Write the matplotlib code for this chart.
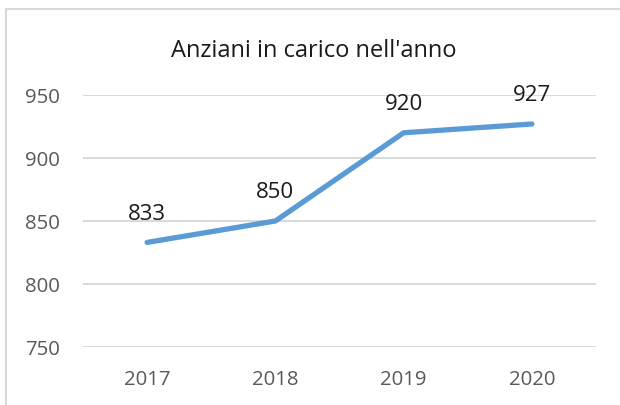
import matplotlib.pyplot as plt
from matplotlib.lines import Line2D

years = ["2017", "2018", "2019", "2020"]
anziani = [833, 850, 920, 927]
yticks = [750, 800, 850, 900, 950]

W, H = 620, 406
fig = plt.figure(figsize=(W / 100, H / 100), dpi=100)
plt.rcParams["font.family"] = ["Open Sans", "DejaVu Sans"]

# axes placed in pixel coords of the reference
left, right, top, bottom = 83, 596, 96, 348
ax = fig.add_axes([left / W, 1 - bottom / H, (right - left) / W, (bottom - top) / H])

x = list(range(len(years)))
ax.plot(x, anziani, color="#5B9BD5", linewidth=3.8, solid_capstyle="round")
for xi, v in zip(x, anziani):
    ax.annotate(str(v), (xi, v), xytext=(0, 17), textcoords="offset points",
                ha="center", va="baseline", fontsize=16, color="#1a1a1a")

ax.set_xlim(-0.5, len(years) - 0.5)
ax.set_ylim(750, 950)
ax.set_yticks(yticks)
ax.set_xticks(x)
ax.set_xticklabels(years)
ax.tick_params(length=0, labelsize=14.7, labelcolor="#595959")
ax.tick_params(axis="x", pad=16)
ax.tick_params(axis="y", pad=16.5)
ax.grid(axis="y", color="#D9D9D9", linewidth=1.4)
ax.set_axisbelow(True)
for s in ax.spines.values():
    s.set_visible(False)

fig.text(314 / W, 1 - 57 / H, "Anziani in carico nell'anno", ha="center", va="baseline",
         fontsize=17, color="#1a1a1a")

# chart border (top and left visible)
fig.add_artist(Line2D([6 / W, 1], [1 - 10 / H, 1 - 10 / H], color="#D9D9D9", linewidth=1.5,
                      transform=fig.transFigure))
fig.add_artist(Line2D([6 / W, 6 / W], [0, 1 - 10 / H], color="#D9D9D9", linewidth=1.5,
                      transform=fig.transFigure))

fig.savefig("out.png", dpi=100)
